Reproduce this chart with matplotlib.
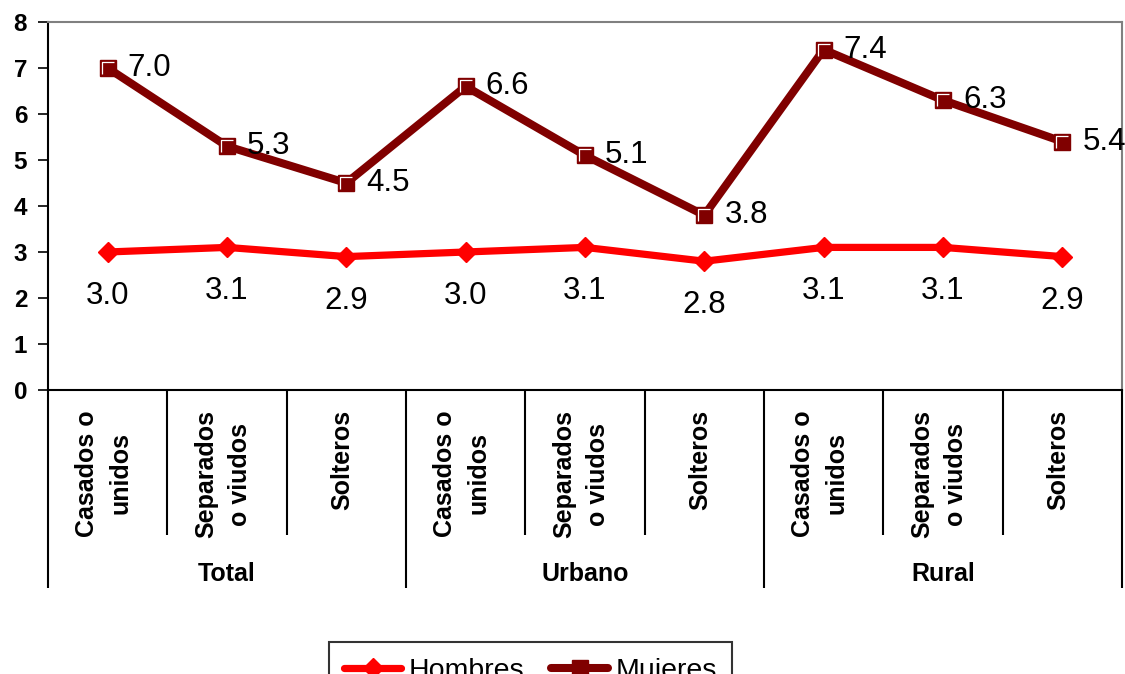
import matplotlib.pyplot as plt
from matplotlib.path import Path
from matplotlib import transforms

plt.rcParams['font.family'] = ['Liberation Sans', 'DejaVu Sans']
plt.rcParams['lines.solid_capstyle'] = 'round'

groups = ['Total', 'Urbano', 'Rural']
subcats = ['Casados o\nunidos', 'Separados\no viudos', 'Solteros']
hombres = [3.0, 3.1, 2.9, 3.0, 3.1, 2.8, 3.1, 3.1, 2.9]
mujeres = [7.0, 5.3, 4.5, 6.6, 5.1, 3.8, 7.4, 6.3, 5.4]

c_h = '#FF0000'
c_m = '#800000'

fig = plt.figure(figsize=(11.25, 6.74), dpi=100)
ax = fig.add_axes([48 / 1125, 1 - 390 / 674, 1074 / 1125, 368 / 674])

x = list(range(len(hombres)))

ax.plot(x, hombres, color=c_h, linewidth=5.2, marker='D', markersize=10,
        markerfacecolor=c_h, markeredgecolor=c_h, label='Hombres', zorder=3)
ax.plot(x, mujeres, color=c_m, linewidth=5.8, marker='s', markersize=12,
        markerfacecolor=c_m, markeredgecolor=c_m, label='Mujeres', zorder=4)
# white highlight on square markers (top and left edge)
hl = Path([(-1, -1), (-1, 1), (1, 1)], [Path.MOVETO, Path.LINETO, Path.LINETO])
ax.plot(x, mujeres, linestyle='none', marker=hl, markersize=9,
        markerfacecolor='none', markeredgecolor='white', markeredgewidth=0.9, zorder=5)

for xi, v in zip(x, mujeres):
    ax.annotate('{:.1f}'.format(v), (xi, v), xytext=(20, 0), textcoords='offset pixels',
                ha='left', va='center', fontsize=22.5, zorder=6)
for xi, v in zip(x, hombres):
    ax.annotate('{:.1f}'.format(v), (xi, v), xytext=(0, -44), textcoords='offset pixels',
                ha='center', va='center', fontsize=22.5, zorder=6)

ax.set_xlim(-0.5, len(x) - 0.5)
ax.set_ylim(0, 8)
ax.set_yticks(range(0, 9))
ax.tick_params(axis='y', direction='out', length=7, width=1.2, pad=8, labelsize=17.5)
for lab in ax.get_yticklabels():
    lab.set_fontweight('bold')
ax.set_xticks([])

for s in ['top', 'right']:
    ax.spines[s].set_color('#808080')
    ax.spines[s].set_linewidth(1.5)
for s in ['left', 'bottom']:
    ax.spines[s].set_color('black')
    ax.spines[s].set_linewidth(1.5)

# hierarchical category axis
trans = transforms.blended_transform_factory(ax.transData, ax.transAxes)
inner = -145 / 368
outer = -198 / 368
for b in range(len(x) + 1):
    xb = b - 0.5
    yb = outer if b % 3 == 0 else inner
    ax.plot([xb, xb], [0, yb], color='black', linewidth=1.5, transform=trans,
            clip_on=False, solid_capstyle='butt')

for i in range(len(x)):
    ax.text(i - 0.03, -20 / 368, subcats[i % 3], rotation=90, ha='center', va='top',
            multialignment='center', fontsize=18, fontweight='bold', linespacing=1.5,
            transform=trans)
for g, name in enumerate(groups):
    ax.text(g * 3 + 1, -184 / 368, name, ha='center', va='center', fontsize=18,
            fontweight='bold', transform=trans)

leg = fig.legend(loc='upper center', bbox_to_anchor=(530.5 / 1125, 1 - 642 / 674),
                 ncol=2, fontsize=20.5, frameon=True, fancybox=False, handlelength=2.0,
                 handletextpad=0.25, columnspacing=0.95, borderpad=0.55, borderaxespad=0)
leg.get_frame().set_edgecolor('black')
leg.get_frame().set_linewidth(1.5)

fig.savefig('out.png', dpi=100)
